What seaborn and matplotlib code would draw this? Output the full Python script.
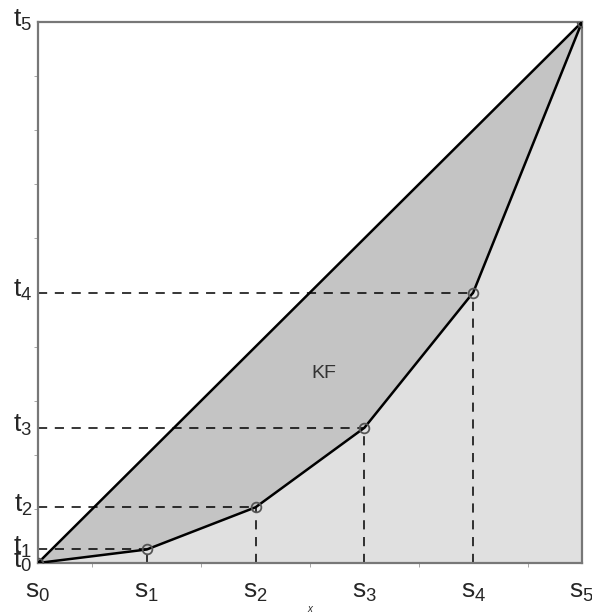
import numpy as np
import pandas as pd
import matplotlib
matplotlib.use("Agg")
import matplotlib.pyplot as plt
import matplotlib.transforms as mtransforms
import seaborn as sns

# Points of the curve (cumulative shares)
s_vals = [0.0, 0.2, 0.4, 0.6, 0.8, 1.0]
t_vals = [0.0, 0.025, 0.103, 0.25, 0.5, 1.0]
s_labels = [r"$\mathregular{s_%d}$" % i for i in range(6)]
t_labels = [r"$\mathregular{t_%d}$" % i for i in range(6)]
area_label = "KF"

sns.set_style("white")
plt.rcParams['font.family'] = ['Arial', 'Liberation Sans', 'DejaVu Sans']
plt.rcParams['mathtext.fontset'] = 'custom'
plt.rcParams['mathtext.rm'] = 'Liberation Sans'

fig = plt.figure(figsize=(5.92, 6.13), dpi=100)
ax = fig.add_axes([38/592, 50/613, 544/592, 541/613])

df = pd.DataFrame({"s": s_vals, "t": t_vals})

# light area under the curve, darker area between diagonal and curve
ax.fill_between(df["s"], 0, df["t"], color="#e0e0e0", lw=0, zorder=1)
ax.fill_between(df["s"], df["t"], df["s"], color="#c4c4c4", lw=0, zorder=1)

# diagonal
ax.plot([0, 1], [0, 1], color="black", lw=1.8, zorder=3)

# dashed guides
for s, t in zip(s_vals[1:-1], t_vals[1:-1]):
    ax.plot([0, s], [t, t], color="black", lw=1.1, ls=(0, (6, 5)), zorder=2)
    ax.plot([s, s], [0, t], color="black", lw=1.1, ls=(0, (6, 5)), zorder=2)

sns.lineplot(data=df, x="s", y="t", ax=ax, color="black", lw=1.8,
             marker="o", markersize=7, markerfacecolor="none",
             markeredgecolor="#555555", markeredgewidth=1.3, zorder=4)

ax.text(0.525, 0.35, area_label, fontsize=14, color="#333333",
        ha="center", va="center")

ax.set_xlim(0, 1)
ax.set_ylim(0, 1)
ax.set_xticks(s_vals)
ax.set_xticklabels(s_labels, fontsize=19)
ax.set_yticks(t_vals)
ax.set_yticklabels(t_labels, fontsize=19)
ax.set_xticks(np.arange(0.1, 1.0, 0.2), minor=True)
ax.set_yticks(np.arange(0.1, 1.0, 0.1), minor=True)
ax.tick_params(axis="x", which="major", length=0, pad=12)
ax.tick_params(axis="y", which="major", length=0, pad=4)
ax.tick_params(axis="both", which="minor", length=3, color="#999999", direction="out")
ax.tick_params(axis="both", which="both", left=True, bottom=True)

# lift the y labels so the subscript sits on the tick
shift = mtransforms.ScaledTranslation(0, 5/100, fig.dpi_scale_trans)
for lbl in ax.get_yticklabels():
    lbl.set_transform(lbl.get_transform() + shift)

ax.set_xlabel("x", fontsize=7, style="italic", labelpad=0)
ax.set_ylabel("")
for sp in ax.spines.values():
    sp.set_color("#777777")
    sp.set_linewidth(1.6)

fig.savefig("out.png", dpi=100)
